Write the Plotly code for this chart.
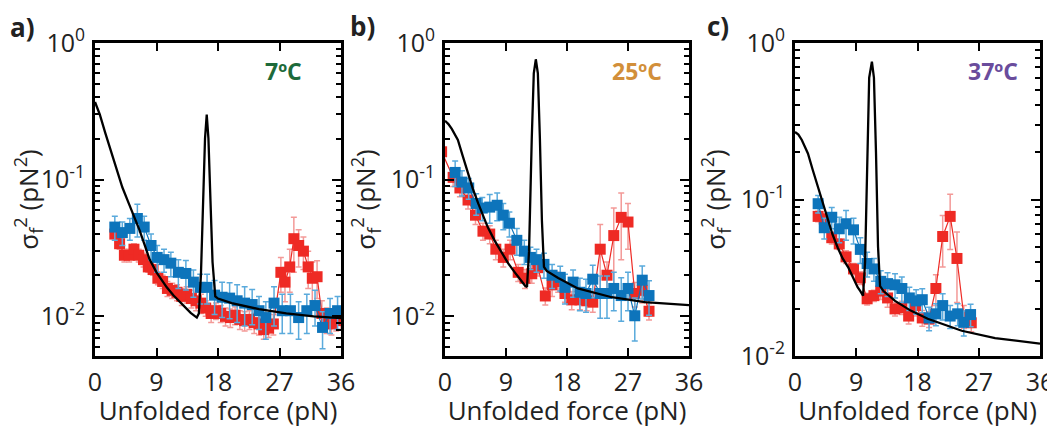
import math
import plotly.graph_objects as go

# ---------------- data ----------------
# panel a) 7 ºC
a_red_x = [2.9,3.6,4.3,5.0,5.7,6.4,7.1,7.8,8.5,9.2,9.9,10.6,11.3,12.0,12.7,13.4,14.1,14.8,15.5,16.2,
           17.0,17.7,18.4,19.1,19.8,20.5,21.2,21.9,22.6,23.3,24.0,24.7,25.4,26.1,
           27.2,27.8,28.5,29.1,29.8,30.5,31.2,31.8,32.5,33.2,33.9,34.6,35.3,36.0]
a_red_y = [0.040,0.034,0.028,0.028,0.031,0.028,0.026,0.023,0.022,0.019,0.018,0.016,0.0155,0.015,0.014,0.0145,0.0135,0.013,0.0125,0.0115,
           0.0105,0.011,0.0105,0.010,0.0098,0.0102,0.0095,0.0093,0.0095,0.009,0.0088,0.008,0.0082,0.0088,
           0.021,0.0178,0.023,0.037,0.033,0.030,0.023,0.019,0.0195,0.0105,0.0095,0.0088,0.0093,0.0095]
a_red_e = [0.004,0.003,0.003,0.003,0.003,0.003,0.003,0.002,0.002,0.002,0.002,0.002,0.002,0.002,0.002,0.002,0.002,0.002,0.002,0.0015,
           0.0015,0.0015,0.0015,0.0015,0.0015,0.0015,0.0015,0.0015,0.0015,0.0015,0.0015,0.0012,0.0012,0.0015,
           0.006,0.005,0.008,0.016,0.010,0.008,0.007,0.006,0.006,0.0025,0.002,0.0015,0.0015,0.0015]
a_blue_x = [2.9,4.0,5.1,6.2,7.2,8.2,9.1,10.1,11.1,12.2,13.3,14.4,15.4,16.4,17.5,18.6,19.7,20.8,21.9,23.0,
            24.0,25.0,26.2,27.4,28.6,29.8,31.0,32.2,33.3,34.4,35.5]
a_blue_y = [0.045,0.041,0.044,0.052,0.045,0.033,0.027,0.026,0.0245,0.021,0.0206,0.0178,0.0163,0.0163,0.0143,0.0138,0.0136,0.013,0.0125,0.0122,
            0.011,0.0098,0.0125,0.011,0.011,0.0098,0.011,0.012,0.0083,0.0105,0.011]
a_blue_e = [0.009,0.008,0.008,0.014,0.009,0.007,0.006,0.005,0.005,0.005,0.005,0.004,0.004,0.004,0.004,0.004,0.004,0.004,0.004,0.0035,
            0.003,0.003,0.004,0.0035,0.0035,0.003,0.0035,0.0035,0.0025,0.003,0.003]
a_fit_x = [0,0.7,1.5,2.2,3,4,5,5.6,6.5,7.2,8,9,10,10.5,11.5,12.9,14,14.9,15.2,15.5,15.8,16.1,16.35,16.6,16.9,17.2,17.6,18,20,24,28,32,36]
a_fit_y = [0.37,0.30,0.22,0.17,0.125,0.088,0.066,0.056,0.043,0.034,0.026,0.021,0.0178,0.0163,0.0142,0.012,0.0106,0.0098,0.0105,0.02,0.07,0.2,0.30,0.2,0.07,0.025,0.014,0.0135,0.0125,0.0113,0.0105,0.0100,0.0097]

# panel b) 25 ºC
b_red_x = [-0.5,1.2,2.2,3.4,4.5,5.6,6.6,7.5,8.6,9.6,10.8,11.8,12.8,13.7,14.8,15.8,16.7,17.7,18.7,19.9,
           20.9,21.8,22.9,23.9,24.9,26.0,27.0,28.0,29.1,30.1]
b_red_y = [0.16,0.104,0.087,0.071,0.055,0.042,0.040,0.031,0.027,0.031,0.021,0.019,0.0205,0.0227,0.0141,0.017,0.018,0.0147,0.0132,0.0132,
           0.013,0.0127,0.031,0.020,0.039,0.053,0.049,0.0147,0.0155,0.0109]
b_red_e = [0.02,0.015,0.012,0.01,0.008,0.006,0.006,0.005,0.004,0.005,0.003,0.003,0.003,0.003,0.002,0.003,0.003,0.002,0.002,0.002,
           0.002,0.002,0.016,0.005,0.023,0.027,0.018,0.003,0.003,0.0015]
b_blue_x = [1.5,2.5,3.5,4.6,5.5,6.6,7.7,8.6,9.5,10.6,11.7,12.6,13.5,14.6,15.8,17.0,17.7,18.9,19.9,20.8,
            21.8,22.9,23.9,24.9,26.0,27.0,28.0,29.1,30.1]
b_blue_y = [0.113,0.096,0.087,0.067,0.062,0.063,0.065,0.055,0.048,0.036,0.030,0.027,0.026,0.024,0.020,0.0193,0.0163,0.0178,0.015,0.0147,
            0.0187,0.0147,0.0147,0.016,0.0142,0.016,0.0101,0.0184,0.0142]
b_blue_e = [0.024,0.02,0.015,0.012,0.012,0.015,0.015,0.012,0.01,0.008,0.006,0.005,0.005,0.005,0.004,0.004,0.004,0.004,0.004,0.004,
            0.005,0.005,0.005,0.005,0.005,0.005,0.0035,0.005,0.004]
b_fit_x = [0,0.5,1,1.9,2.6,3.4,4.1,4.9,5.6,6.3,7.3,8.4,9.3,10.3,11.2,11.8,12.1,12.4,12.8,13.1,13.4,13.7,14.0,14.3,14.6,15,16.7,19.6,24.6,29.5,36]
b_fit_y = [0.27,0.255,0.235,0.195,0.15,0.11,0.086,0.067,0.055,0.045,0.036,0.029,0.0245,0.021,0.0183,0.0168,0.0164,0.03,0.2,0.6,0.76,0.6,0.2,0.05,0.023,0.0215,0.0191,0.016,0.0138,0.0127,0.0121]

# panel c) 37 ºC
c_red_x = [3.4,4.3,5.4,6.5,7.5,8.6,9.6,10.6,11.6,12.6,13.6,14.7,15.7,16.7,17.7,18.7,19.7,20.7,21.7,22.8,23.8,24.8,25.9]
c_red_y = [0.078,0.075,0.057,0.052,0.043,0.036,0.0316,0.0232,0.0243,0.026,0.0235,0.020,0.0204,0.018,0.021,0.0175,0.0172,0.027,0.058,0.078,0.042,0.018,0.0163]
c_red_e = [0.006,0.006,0.005,0.004,0.004,0.003,0.003,0.002,0.002,0.003,0.003,0.002,0.002,0.002,0.003,0.002,0.002,0.006,0.021,0.03,0.02,0.003,0.002]
c_blue_x = [3.4,4.3,5.4,6.5,7.5,8.6,9.6,10.6,11.6,12.6,13.6,14.7,15.7,16.8,17.8,18.7,19.7,20.7,21.7,22.8,23.9,24.8,25.8]
c_blue_y = [0.094,0.066,0.077,0.065,0.070,0.064,0.048,0.039,0.036,0.030,0.029,0.0285,0.027,0.0235,0.0225,0.0229,0.0175,0.0186,0.021,0.018,0.0186,0.0164,0.0184]
c_blue_e = [0.012,0.01,0.012,0.012,0.015,0.012,0.009,0.007,0.006,0.005,0.005,0.005,0.005,0.004,0.004,0.004,0.003,0.003,0.004,0.003,0.003,0.003,0.003]
c_fit_x = [0,0.5,1,1.9,2.6,3.4,4.1,4.8,5.5,6.3,7,7.8,8.5,9.2,9.6,10,10.3,10.6,10.9,11.3,11.6,11.9,12.2,12.5,13,14.7,17,19.5,24.5,29.4,36]
c_fit_y = [0.27,0.26,0.24,0.197,0.155,0.12,0.095,0.074,0.06,0.049,0.042,0.037,0.032,0.0275,0.026,0.0243,0.04,0.2,0.6,0.76,0.6,0.2,0.05,0.028,0.026,0.0225,0.0195,0.0173,0.0145,0.013,0.012]

panel_letters = ["a)", "b)", "c)"]
temps = ["7ºC", "25ºC", "37ºC"]
temp_colors = ["#1d6a3a", "#d28f3a", "#6a4c9c"]
x_ticks = [0, 9, 18, 27, 36]

# ---------------- style ----------------
# the page body has an 8px margin, so the figure is drawn 8px smaller and all
# target pixel positions are shifted by that amount
OFF = 8
W, H = 1055 - OFF, 428 - OFF
FONT = "Open Sans"
RED, RED_E = "#ee2a24", "#f39a98"
BLUE, BLUE_E = "#0d74bb", "#5aaadc"
TXT = "#222"


def px(x):
    return (x - OFF) / W


def py(y):
    return 1 - (y - OFF) / H


fig = go.Figure()

panels = [
    (a_red_x, a_red_y, a_red_e, a_blue_x, a_blue_y, a_blue_e, a_fit_x, a_fit_y),
    (b_red_x, b_red_y, b_red_e, b_blue_x, b_blue_y, b_blue_e, b_fit_x, b_fit_y),
    (c_red_x, c_red_y, c_red_e, c_blue_x, c_blue_y, c_blue_e, c_fit_x, c_fit_y),
]
x_px = [(95, 341), (445, 689), (795, 1040)]
y_px = (43, 356)
y_ranges = [[-2.29, 0], [-2.29, 0], [-2.0, 0]]

for i, (rx, ry, re_, bx, by, be, fx, fy) in enumerate(panels):
    xa = "x" if i == 0 else f"x{i+1}"
    ya = "y" if i == 0 else f"y{i+1}"
    fig.add_trace(go.Scatter(x=rx, y=ry, mode="lines+markers", xaxis=xa, yaxis=ya,
                             line=dict(color=RED, width=1.2),
                             marker=dict(symbol="square", size=11, color=RED),
                             error_y=dict(type="data", array=re_, color=RED_E, thickness=1.5, width=3),
                             showlegend=False))
    fig.add_trace(go.Scatter(x=bx, y=by, mode="lines+markers", xaxis=xa, yaxis=ya,
                             line=dict(color=BLUE, width=1.2),
                             marker=dict(symbol="square", size=11, color=BLUE),
                             error_y=dict(type="data", array=be, color=BLUE_E, thickness=1.5, width=3),
                             showlegend=False))
    fig.add_trace(go.Scatter(x=fx, y=fy, mode="lines", xaxis=xa, yaxis=ya,
                             line=dict(color="black", width=2.3),
                             showlegend=False))

    xkey = "xaxis" if i == 0 else f"xaxis{i+1}"
    ykey = "yaxis" if i == 0 else f"yaxis{i+1}"
    lo, hi = y_ranges[i]
    major = [10 ** k for k in range(-3, 1) if lo - 1e-9 <= k <= hi]
    minor = [m * 10 ** k for k in range(-3, 0) for m in range(2, 10)
             if lo <= math.log10(m * 10 ** k) <= hi]
    fig.update_layout(**{
        xkey: dict(domain=[px(x_px[i][0]), px(x_px[i][1])], anchor=ya, range=[0, 36],
                   tickvals=x_ticks, ticktext=[str(t) for t in x_ticks],
                   ticks="inside", ticklen=8, tickwidth=2, tickcolor="black",
                   showline=True, linewidth=3, linecolor="black", mirror="ticks",
                   showgrid=False, zeroline=False, ticklabelstandoff=2, automargin=False,
                   tickfont=dict(family=FONT, size=25, color=TXT),
                   title=dict(text="Unfolded force (pN)", standoff=11,
                              font=dict(family=FONT, size=26, color=TXT))),
        ykey: dict(domain=[py(y_px[1]), py(y_px[0])], anchor=xa, type="log", range=[lo, hi],
                   tickvals=major,
                   ticktext=[f"10<sup>{int(round(math.log10(v)))}</sup>" for v in major],
                   ticks="inside", ticklen=9, tickwidth=2, tickcolor="black",
                   minor=dict(tickvals=minor, ticks="inside", ticklen=5, tickwidth=1.5, tickcolor="black"),
                   showline=True, linewidth=3, linecolor="black", mirror="ticks",
                   showgrid=False, zeroline=False, ticklabelstandoff=2, automargin=False,
                   tickfont=dict(family=FONT, size=25, color=TXT),
                   title=dict(text="σ<sub>f</sub><sup>2</sup> (pN<sup>2</sup>)", standoff=8,
                              font=dict(family=FONT, size=26, color=TXT))),
    })

letter_pos = [(22, 27), (362, 26), (718, 26)]
temp_pos = [(283, 71), (637, 71), (993, 71)]
for i in range(3):
    fig.add_annotation(x=px(letter_pos[i][0]), y=py(letter_pos[i][1]), xref="paper", yref="paper",
                       text=f"<b>{panel_letters[i]}</b>", showarrow=False,
                       font=dict(family=FONT, size=26, color=TXT), xanchor="center", yanchor="middle")
    fig.add_annotation(x=px(temp_pos[i][0]), y=py(temp_pos[i][1]), xref="paper", yref="paper",
                       text=f"<b>{temps[i]}</b>", showarrow=False,
                       font=dict(family=FONT, size=23, color=temp_colors[i]), xanchor="center", yanchor="middle")

fig.update_layout(width=W, height=H, margin=dict(l=0, r=0, t=0, b=0),
                  paper_bgcolor="white", plot_bgcolor="white", showlegend=False)

fig.write_html("out.html")
